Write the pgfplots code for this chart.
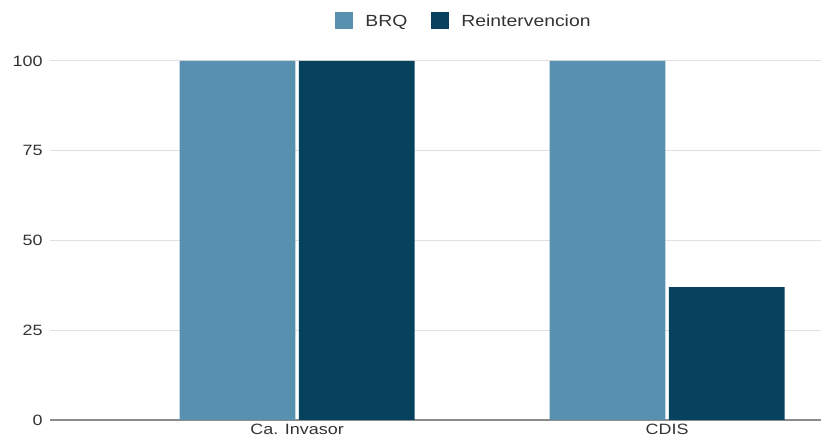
\documentclass[border=0pt]{standalone}
\usepackage{pgfplots}
\pgfplotsset{compat=1.18}
\usepackage{fontspec}
\setmainfont[FakeStretch=1.2]{Liberation Sans}
\definecolor{brq}{RGB}{88,144,176}
\definecolor{rei}{RGB}{6,66,94}
\begin{document}
\begin{tikzpicture}
\begin{axis}[
  at={(0,0)}, anchor=south west,
  scale only axis, width=771bp, height=359bp,
  xmin=-0.668, xmax=1.416, ymin=0, ymax=100,
  ytick={25,50,75,100},
  extra y ticks={0},
  extra y tick style={grid style={color=black!45, line width=1.2bp}},
  xtick={0,1}, xticklabels={Ca. Invasor, CDIS},
  major tick length=0pt,
  axis line style={draw=none},
  ymajorgrids, grid style={color=black!12, line width=1bp},
  ybar, bar width=0.313,
  /pgf/number format/assume math mode=true,
  tick label style={font=\fontsize{15}{17}\selectfont, text=black!80},
  yticklabel style={xshift=-4bp},
  xticklabel style={yshift=-1bp},
  legend columns=2,
  legend style={draw=none, at={(0.537,1.111)}, anchor=center,
    font=\fontsize{16.2}{18}\selectfont, text=black!80,
    /tikz/every odd column/.append style={column sep=10bp},
    /tikz/every even column/.append style={column sep=22bp}},
  legend image code/.code={\fill[#1] (0bp,-8bp) rectangle (18bp,9bp);},
]
\addplot[fill=brq, draw=none, bar shift=-0.161] coordinates {(0,100) (1,100)};
\addplot[fill=rei, draw=none, bar shift=0.161] coordinates {(0,100) (1,37)};
\legend{BRQ, Reintervencion}
\end{axis}
\pgfresetboundingbox
\path (-50bp,-27bp) rectangle (771bp,420bp);
\end{tikzpicture}
\end{document}
